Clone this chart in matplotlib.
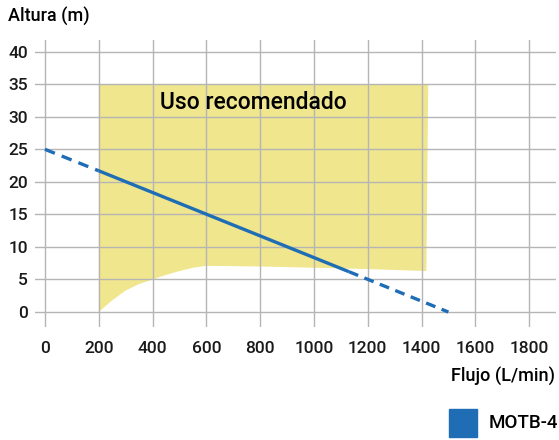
import matplotlib
matplotlib.use("Agg")
import matplotlib.pyplot as plt
import numpy as np

plt.rcParams['font.family'] = ['Roboto', 'DejaVu Sans']
plt.rcParams['font.weight'] = 'medium'

# Data
x_ticks = [0, 200, 400, 600, 800, 1000, 1200, 1400, 1600, 1800]
y_ticks = [0, 5, 10, 15, 20, 25, 30, 35, 40]

# recommended-use region outline (flow, height)
zone_x = [200, 1425, 1418, 1200, 1000, 800, 600, 550, 500, 450, 400, 350, 300, 250, 200]
zone_y = [35, 35, 6.3, 6.6, 6.8, 7.0, 7.1, 6.8, 6.3, 5.7, 5.0, 4.3, 3.3, 1.8, 0]

# pump curve MOTB-4
curve_x = [0, 200, 1130, 1500]
curve_y = [25, 21.7, 6.2, 0]
series_name = "MOTB-4"

fig = plt.figure(figsize=(5.59, 4.40), dpi=100)
ax = fig.add_axes([35/559, 1-327/440, (556-35)/559, (327-40)/440])
ax.set_xlim(-37, 1900)
ax.set_ylim(-2.3, 41.8)

ax.fill(zone_x, zone_y, color='#f0e68e', zorder=1, lw=0)
ax.grid(True, color='#b5b5b5', lw=1.0, zorder=2)
ax.set_axisbelow(False)

blue = '#1f6db5'
ax.plot(curve_x[:2], curve_y[:2], color=blue, lw=2.4, dashes=(3.2, 2.2), zorder=3, dash_capstyle='butt')
ax.plot(curve_x[1:3], curve_y[1:3], color=blue, lw=2.4, zorder=3, solid_capstyle='butt')
ax.plot(curve_x[2:], curve_y[2:], color=blue, lw=2.4, dashes=(3.0, 2.0), zorder=3, dash_capstyle='butt')

ax.text(427, 32.2, "Uso recomendado", fontsize=16.5, va='center', ha='left', color='black', zorder=4)

ax.set_xticks(x_ticks)
ax.set_yticks(y_ticks)
ax.tick_params(axis='both', length=0, labelsize=12.5, colors='#1a1a1a')
ax.tick_params(axis='x', pad=10)
ax.tick_params(axis='y', pad=5)
for s in ax.spines.values():
    s.set_visible(False)

fig.text(8/559, 1-16/440, "Altura (m)", fontsize=13, va='center', ha='left')
fig.text(555/559, 1-376/440, "Flujo (L/min)", fontsize=13, va='center', ha='right')

# legend
fig.patches.append(plt.Rectangle((449/559, 1-437/440), 28/559, 28/440, transform=fig.transFigure, color=blue, figure=fig))
fig.text(489/559, 1-423/440, series_name, fontsize=13.5, va='center', ha='left')

fig.savefig("out.png", dpi=100)
